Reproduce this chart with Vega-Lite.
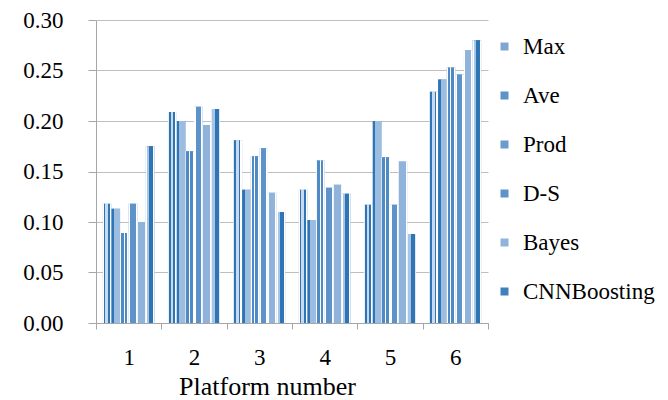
{
  "$schema": "https://vega.github.io/schema/vega-lite/v6.json",
  "width": 392,
  "height": 303,
  "autosize": {"type": "none"},
  "padding": {"left": 96, "top": 20, "right": 180, "bottom": 77},
  "background": "white",
  "params": [
    {
      "name": "pat",
      "value": {
        "Max": {"gradient": "linear", "x1": 0, "y1": 0, "x2": 1, "y2": 0, "stops": [
          {"offset": 0, "color": "#FFFFFF"}, {"offset": 0.1, "color": "#FFFFFF"},
          {"offset": 0.1, "color": "#2E75B6"}, {"offset": 0.3, "color": "#2E75B6"},
          {"offset": 0.3, "color": "#C9DAEE"}, {"offset": 0.6, "color": "#C9DAEE"},
          {"offset": 0.6, "color": "#2E75B6"}, {"offset": 0.78, "color": "#2E75B6"},
          {"offset": 0.78, "color": "#FFFFFF"}, {"offset": 1, "color": "#FFFFFF"}]},
        "Ave": {"gradient": "linear", "x1": 0, "y1": 0, "x2": 1, "y2": 0, "stops": [
          {"offset": 0, "color": "#2E75B6"}, {"offset": 0.28, "color": "#2E75B6"},
          {"offset": 0.28, "color": "#9DBDE0"}, {"offset": 1, "color": "#9DBDE0"}]},
        "Prod": {"gradient": "linear", "x1": 0, "y1": 0, "x2": 1, "y2": 0, "stops": [
          {"offset": 0, "color": "#FFFFFF"}, {"offset": 0.12, "color": "#FFFFFF"},
          {"offset": 0.12, "color": "#4F8AC4"}, {"offset": 0.4, "color": "#4F8AC4"},
          {"offset": 0.4, "color": "#FFFFFF"}, {"offset": 0.55, "color": "#FFFFFF"},
          {"offset": 0.55, "color": "#4F8AC4"}, {"offset": 0.85, "color": "#4F8AC4"},
          {"offset": 0.85, "color": "#FFFFFF"}, {"offset": 1, "color": "#FFFFFF"}]},
        "D-S": {"gradient": "linear", "x1": 0, "y1": 0, "x2": 1, "y2": 0, "stops": [
          {"offset": 0, "color": "#FFFFFF"}, {"offset": 0.2, "color": "#FFFFFF"},
          {"offset": 0.2, "color": "#5E93C9"}, {"offset": 0.8, "color": "#5E93C9"},
          {"offset": 0.8, "color": "#FFFFFF"}, {"offset": 1, "color": "#FFFFFF"}]},
        "Bayes": {"gradient": "linear", "x1": 0, "y1": 0, "x2": 1, "y2": 0, "stops": [
          {"offset": 0, "color": "#FFFFFF"}, {"offset": 0.1, "color": "#FFFFFF"},
          {"offset": 0.1, "color": "#8FB3DB"}, {"offset": 0.85, "color": "#8FB3DB"},
          {"offset": 0.85, "color": "#FFFFFF"}, {"offset": 1, "color": "#FFFFFF"}]},
        "CNNBoosting": {"gradient": "linear", "x1": 0, "y1": 0, "x2": 1, "y2": 0, "stops": [
          {"offset": 0, "color": "#FFFFFF"}, {"offset": 0.15, "color": "#FFFFFF"},
          {"offset": 0.15, "color": "#A9C5E6"}, {"offset": 0.4, "color": "#A9C5E6"},
          {"offset": 0.4, "color": "#2E75B6"}, {"offset": 0.85, "color": "#2E75B6"},
          {"offset": 0.85, "color": "#FFFFFF"}, {"offset": 1, "color": "#FFFFFF"}]}
      }
    }
  ],
  "data": {
    "values": [
      {"platform": "1", "method": "Max", "value": 0.118},
      {"platform": "1", "method": "Ave", "value": 0.113},
      {"platform": "1", "method": "Prod", "value": 0.089},
      {"platform": "1", "method": "D-S", "value": 0.118},
      {"platform": "1", "method": "Bayes", "value": 0.100},
      {"platform": "1", "method": "CNNBoosting", "value": 0.175},
      {"platform": "2", "method": "Max", "value": 0.209},
      {"platform": "2", "method": "Ave", "value": 0.200},
      {"platform": "2", "method": "Prod", "value": 0.170},
      {"platform": "2", "method": "D-S", "value": 0.214},
      {"platform": "2", "method": "Bayes", "value": 0.196},
      {"platform": "2", "method": "CNNBoosting", "value": 0.212},
      {"platform": "3", "method": "Max", "value": 0.181},
      {"platform": "3", "method": "Ave", "value": 0.132},
      {"platform": "3", "method": "Prod", "value": 0.165},
      {"platform": "3", "method": "D-S", "value": 0.173},
      {"platform": "3", "method": "Bayes", "value": 0.129},
      {"platform": "3", "method": "CNNBoosting", "value": 0.110},
      {"platform": "4", "method": "Max", "value": 0.132},
      {"platform": "4", "method": "Ave", "value": 0.102},
      {"platform": "4", "method": "Prod", "value": 0.161},
      {"platform": "4", "method": "D-S", "value": 0.134},
      {"platform": "4", "method": "Bayes", "value": 0.137},
      {"platform": "4", "method": "CNNBoosting", "value": 0.128},
      {"platform": "5", "method": "Max", "value": 0.117},
      {"platform": "5", "method": "Ave", "value": 0.200},
      {"platform": "5", "method": "Prod", "value": 0.164},
      {"platform": "5", "method": "D-S", "value": 0.117},
      {"platform": "5", "method": "Bayes", "value": 0.160},
      {"platform": "5", "method": "CNNBoosting", "value": 0.088},
      {"platform": "6", "method": "Max", "value": 0.229},
      {"platform": "6", "method": "Ave", "value": 0.241},
      {"platform": "6", "method": "Prod", "value": 0.253},
      {"platform": "6", "method": "D-S", "value": 0.246},
      {"platform": "6", "method": "Bayes", "value": 0.270},
      {"platform": "6", "method": "CNNBoosting", "value": 0.280}
    ]
  },
  "encoding": {
    "x": {
      "field": "platform",
      "type": "ordinal",
      "scale": {"paddingInner": 0, "paddingOuter": 0},
      "axis": {
        "tickBand": "extent",
        "grid": false,
        "labelAngle": 0,
        "domainColor": "#A6A6A6",
        "tickColor": "#A6A6A6",
        "tickSize": 6,
        "labelFont": "Liberation Serif",
        "labelFontSize": 23,
        "labelColor": "black",
        "labelPadding": 17,
        "title": "Platform number",
        "titleFont": "Liberation Serif",
        "titleFontSize": 26,
        "titleFontWeight": "normal",
        "titleColor": "black",
        "titlePadding": 4,
        "titleX": 171,
        "titleAnchor": "middle"
      }
    },
    "xOffset": {
      "field": "method",
      "type": "nominal",
      "sort": ["Max", "Ave", "Prod", "D-S", "Bayes", "CNNBoosting"],
      "scale": {"paddingInner": 0, "paddingOuter": 0.8}
    },
    "y": {
      "field": "value",
      "type": "quantitative",
      "scale": {"domain": [0, 0.3], "nice": false},
      "axis": {
        "values": [0, 0.05, 0.1, 0.15, 0.2, 0.25, 0.3],
        "format": ".2f",
        "grid": true,
        "gridColor": "#BFBFBF",
        "domainColor": "#A6A6A6",
        "tickColor": "#A6A6A6",
        "tickSize": 8,
        "labelPadding": 25,
        "labelFont": "Liberation Serif",
        "labelFontSize": 23,
        "labelColor": "black",
        "title": null
      }
    }
  },
  "layer": [
    {
      "mark": {"type": "bar"},
      "encoding": {
        "fill": {
          "field": "method",
          "type": "nominal",
          "sort": ["Max", "Ave", "Prod", "D-S", "Bayes", "CNNBoosting"],
          "scale": {
            "domain": ["Max", "Ave", "Prod", "D-S", "Bayes", "CNNBoosting"],
            "range": ["#7FA6D3", "#5E93C9", "#6C9BCD", "#5E93C9", "#8FB3DB", "#3F7FBE"]
          },
          "legend": {
            "orient": "none",
            "legendX": 397,
            "legendY": 15,
            "title": null,
            "symbolType": "square",
            "symbolSize": 64,
            "symbolStrokeWidth": 0,
            "labelFont": "Liberation Serif",
            "labelFontSize": 23,
            "labelColor": "black",
            "labelOffset": 7,
            "rowPadding": 25,
            "labelLimit": 300
          }
        }
      }
    },
    {
      "mark": {"type": "bar", "fill": {"expr": "pat[datum.method]"}}
    }
  ],
  "config": {"view": {"stroke": null}}
}
